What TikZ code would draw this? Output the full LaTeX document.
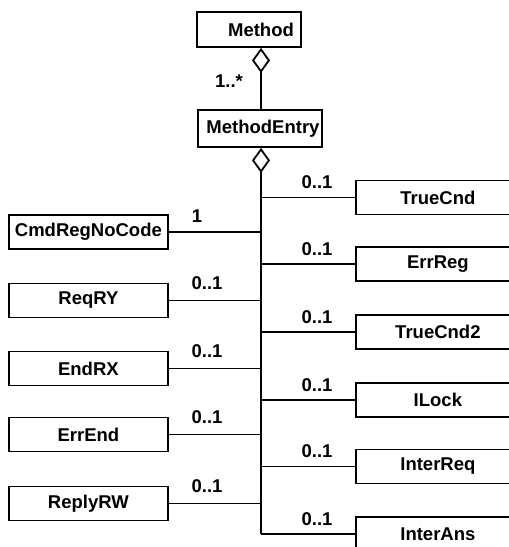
\documentclass[tikz,border=0pt]{standalone}
\usepackage{fontspec}
\setmainfont{Liberation Sans}
\usetikzlibrary{arrows.meta}
\begin{document}
\begin{tikzpicture}[x=1pt,y=-1pt,
  box/.style={draw, line width=1.8pt, rectangle, inner sep=0pt, minimum height=34pt, font=\fontsize{18.5}{20}\selectfont\bfseries},
  rbox/.style={box, minimum width=164pt, anchor=west},
  lbox/.style={box, minimum width=159pt, anchor=west},
  conn/.style={line width=1.8pt},
  aggr/.style={conn, {Diamond[open, length=25pt, width=18pt, line width=1.8pt]}-},
  mult/.style={font=\fontsize{18.5}{20}\selectfont\bfseries, inner sep=0pt}]
\useasboundingbox (0,0) rectangle (509,547);
\clip (0,0) rectangle (509,547);
\node[box, minimum width=104pt, minimum height=35pt] (method) at (249,29.5) {\hspace*{24pt}Method};
\node[box, minimum width=124pt, minimum height=37pt] (entry) at (260,128.5) {\hspace*{6pt}MethodEntry};
\coordinate (tx) at (261,0);
% right boxes
\node[rbox] (truecnd) at (355,197.5) {TrueCnd};
\node[rbox] (errreg) at (355,264) {ErrReg};
\node[rbox] (truecnd2) at (355,332) {TrueCnd2};
\node[rbox] (ilock) at (355,400) {ILock};
\node[rbox] (interreq) at (355,466.5) {InterReq};
\node[rbox] (interans) at (355,534) {InterAns};
% left boxes
\node[lbox] (cmd) at (8,232) {CmdRegNoCode};
\node[lbox] (reqry) at (8,300.5) {ReqRY};
\node[lbox] (endrx) at (8,368.5) {EndRX};
\node[lbox] (errend) at (8,434.5) {ErrEnd};
\node[lbox] (replyrw) at (8,503.5) {ReplyRW};
% connectors
\draw[aggr] (tx |- method.south) -- (tx |- entry.north);
\coordinate (tbot) at (tx |- interans.west);
\draw[aggr] (tx |- entry.south) -- (tbot);
\foreach \n in {truecnd,errreg,truecnd2,ilock,interreq,interans}
  \draw[conn] (tx |- \n.west) -- (\n.west);
\foreach \n in {cmd,reqry,endrx,errend,replyrw}
  \draw[conn] (\n.east) -- (tx |- \n.east);
% multiplicities
\node[mult] (m0) at (229,81) {1..*};
\foreach \n in {truecnd,errreg,truecnd2,ilock,interreq,interans}
  \node[mult] at ([yshift=15pt]\n.west -| 317,0) {0..1};
\node[mult] (m1) at (197,216) {1};
\foreach \n in {reqry,endrx,errend,replyrw}
  \node[mult] at ([yshift=17pt]\n.east -| 207,0) {0..1};
\end{tikzpicture}
\end{document}
